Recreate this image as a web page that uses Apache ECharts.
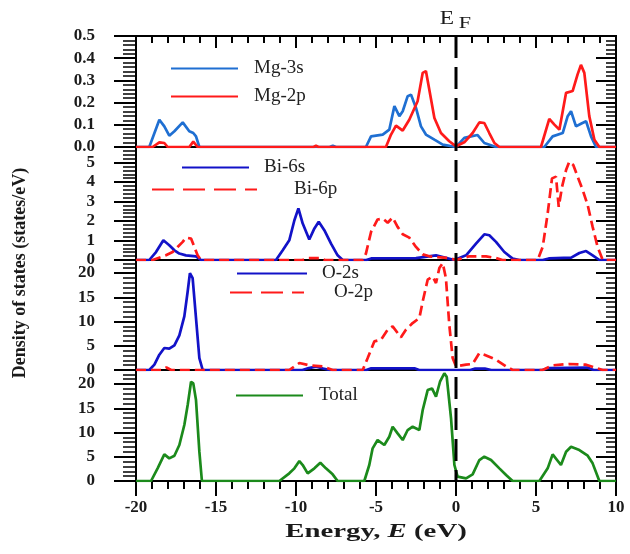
<!DOCTYPE html>
<html>
<head>
<meta charset="utf-8">
<script src="https://cdn.jsdelivr.net/npm/echarts@6/dist/echarts.min.js"></script>
<style>
  html, body { margin: 0; padding: 0; background: #fff; }
  #chart { width: 630px; height: 554px; }
</style>
</head>
<body>
<div id="chart"></div>
<script>
// energy range (eV) and panel ranges
const energyRange = [-20, 10]
const energyTicks = 5
const panelMax = [0.5, 5.8, 22.7, 22.9]
const panelStep = [0.1, 1, 5, 5]

// PDOS: [energy, states/eV]
const mg3s = [[-20,0],[-19.17,0],[-18.54,0.123],[-18.23,0.093],[-17.92,0.051],[-17.6,0.071],[-17.08,0.111],[-16.67,0.071],[-16.42,0.063],[-16.25,0.048],[-16.04,0],[-7.9,0],[-7.7,0.006],[-7.5,0],[-5.63,0],[-5.31,0.048],[-4.58,0.056],[-4.17,0.078],[-3.85,0.184],[-3.54,0.139],[-3.33,0.161],[-3.02,0.229],[-2.81,0.236],[-2.5,0.176],[-2.19,0.093],[-1.88,0.056],[-1.35,0.033],[-0.83,0.011],[0,0],[0.52,0.041],[0.94,0.048],[1.35,0.054],[1.77,0.018],[2.5,0],[5.52,0],[6.04,0.048],[6.67,0.063],[6.98,0.139],[7.19,0.161],[7.5,0.093],[7.81,0.105],[8.13,0.116],[8.44,0.048],[8.75,0],[10,0]]
const mg2p = [[-20,0],[-18.96,0],[-18.54,0.021],[-18.23,0.018],[-18.02,0],[-16.67,0],[-16.42,0.024],[-16.15,0],[-8.9,0],[-8.75,0.006],[-8.6,0],[-4.38,0],[-4.06,0.056],[-3.75,0.096],[-3.33,0.074],[-2.92,0.123],[-2.4,0.206],[-2.08,0.334],[-1.88,0.342],[-1.67,0.259],[-1.35,0.131],[-0.94,0.063],[-0.42,0.026],[0,0.003],[0.52,0.021],[1.04,0.063],[1.46,0.111],[1.77,0.108],[2.08,0.063],[2.4,0.018],[2.71,0],[5.31,0],[5.83,0.127],[6.15,0.101],[6.46,0.078],[6.88,0.244],[7.29,0.252],[7.6,0.327],[7.81,0.37],[8.02,0.334],[8.33,0.139],[8.65,0.033],[8.96,0],[10,0]]
const bi6s = [[-20,0],[-19.17,0],[-18.75,0.41],[-18.29,1.01],[-17.92,0.76],[-17.6,0.5],[-17.29,0.33],[-16.88,0.24],[-16.25,0.19],[-15.94,0],[-11.25,0],[-10.83,0.5],[-10.42,1.01],[-10.1,2.04],[-9.85,2.65],[-9.58,1.87],[-9.17,1.05],[-8.85,1.62],[-8.58,1.96],[-8.23,1.53],[-7.81,0.84],[-7.4,0.24],[-7.08,0],[-5.6,0],[-5.3,0.08],[-2.5,0.1],[-1.25,0.24],[-0.1,0],[0.63,0.24],[1.25,0.84],[1.77,1.32],[2.08,1.27],[2.5,0.93],[3.02,0.41],[3.54,0.07],[3.96,0],[5.42,0],[5.8,0.08],[7.2,0.12],[7.71,0.36],[8.13,0.46],[8.54,0.24],[8.96,0],[10,0]]
const bi6p = [[-20,0],[-18.96,0],[-18.13,0.24],[-17.71,0.41],[-17.4,0.67],[-17.08,0.93],[-16.88,1.15],[-16.56,1.1],[-16.35,0.67],[-16.15,0.24],[-15.94,0],[-9.6,0],[-9.2,0.1],[-8.5,0.1],[-8.2,0],[-5.83,0],[-5.63,0.33],[-5.31,1.44],[-4.9,2.08],[-4.58,2.13],[-4.27,1.91],[-3.96,2.18],[-3.65,1.7],[-3.33,1.32],[-2.92,1.15],[-2.5,0.67],[-2.08,0.29],[-1.67,0.19],[-1.25,0.15],[-0.42,0.1],[0,0],[0.83,0.19],[1.88,0.19],[2.5,0.1],[2.9,0],[5.1,0],[5.42,0.67],[5.73,2.39],[6.0,4.19],[6.25,4.28],[6.42,2.73],[6.63,3.76],[6.88,4.62],[7.08,5.05],[7.33,4.88],[7.6,4.28],[7.92,3.59],[8.23,2.82],[8.54,1.7],[8.85,0.67],[9.17,0],[10,0]]
const o2s = [[-20,0],[-19.17,0],[-18.85,1.1],[-18.54,3.16],[-18.23,4.54],[-17.92,4.4],[-17.6,5.09],[-17.29,7.15],[-16.98,11.07],[-16.77,16.2],[-16.63,20.0],[-16.46,18.97],[-16.25,10.72],[-16.04,2.47],[-15.83,0],[-9.6,0],[-9.2,0.4],[-8.75,0.7],[-8.3,0.3],[-7.9,0],[-5.6,0],[-5.3,0.35],[-2.6,0.35],[-2.3,0],[0.9,0],[1.2,0.3],[1.8,0.3],[2.2,0],[5.4,0],[5.8,0.4],[8.2,0.5],[8.6,0],[10,0]]
const o2p = [[-20,0],[-18.4,0],[-18.1,0.5],[-17.8,0],[-10.42,0],[-9.79,1.44],[-9.17,0.96],[-8.33,0.76],[-7.71,0],[-5.83,0],[-5.52,2.47],[-5.1,5.91],[-4.69,6.25],[-4.27,8.3],[-3.96,9.0],[-3.44,6.74],[-3.13,8.3],[-2.71,9.69],[-2.29,10.72],[-2.08,14.16],[-1.77,18.63],[-1.46,19.31],[-1.25,17.94],[-1.04,21.03],[-0.83,22.06],[-0.63,18.97],[-0.42,9.35],[-0.21,2.47],[0,0.76],[0.63,1.1],[1.04,1.24],[1.46,3.5],[1.77,3.16],[2.5,2.13],[3.13,0.76],[3.54,0],[5.42,0],[6.04,0.96],[7.08,1.24],[8.13,1.1],[8.75,0.41],[9.17,0],[10,0]]
const total = [[-20,0],[-19.06,0],[-18.65,2.61],[-18.23,5.5],[-17.92,4.67],[-17.6,5.22],[-17.29,7.42],[-16.98,11.55],[-16.77,15.67],[-16.56,20.48],[-16.42,20.14],[-16.25,16.7],[-16.04,6.05],[-15.88,0],[-11.04,0],[-10.42,1.58],[-10.1,2.61],[-9.79,4.12],[-9.58,3.3],[-9.27,1.58],[-8.85,2.61],[-8.48,3.78],[-8.13,2.61],[-7.71,1.37],[-7.4,0],[-5.73,0],[-5.42,3.3],[-5.21,6.74],[-4.9,8.45],[-4.48,7.42],[-4.17,9.14],[-3.96,11.2],[-3.65,9.83],[-3.33,8.45],[-3.02,10.52],[-2.71,11.2],[-2.29,10.52],[-2.08,14.64],[-1.77,18.76],[-1.5,19.1],[-1.25,17.39],[-1.0,20.48],[-0.73,22.2],[-0.58,21.5],[-0.31,12.92],[-0.1,3.3],[0.1,0.89],[0.63,0.55],[1.04,1.37],[1.46,4.33],[1.77,5.02],[2.19,4.33],[2.71,2.61],[3.13,1.24],[3.54,0],[5.21,0],[5.73,2.61],[6.04,5.5],[6.56,3.3],[6.88,6.05],[7.19,7.08],[7.71,6.39],[8.23,5.22],[8.54,3.64],[8.96,0],[10,0]]
// Fermi level marker
const fermi = [[0, 1], [0, 0]]

const serif = '"Liberation Serif", "DejaVu Serif", serif'

// panel layout (px)
const panels = [
  { top: 36, height: 111 },
  { top: 147, height: 113 },
  { top: 260, height: 110 },
  { top: 370, height: 111 }
]

const chart = echarts.init(document.getElementById('chart'))

const grid = []
const xAxis = []
const yAxis = []

const noLine = { show: false, onZero: false }

panels.forEach((p, i) => {
  grid.push({
    left: 136, right: 14, top: p.top, height: p.height,
    show: true, borderColor: '#000', borderWidth: 2, containLabel: false
  })
  const last = i === panels.length - 1
  xAxis.push({
    type: 'value', gridIndex: i, min: energyRange[0], max: energyRange[1], interval: energyTicks,
    position: 'bottom',
    axisLine: noLine,
    axisTick: { show: last, inside: false, length: 15, lineStyle: { color: '#000', width: 2 } },
    minorTick: { show: last, splitNumber: 5, length: 8, lineStyle: { color: '#000', width: 2 } },
    axisLabel: { show: last, margin: 18, color: '#1a1a1a', fontFamily: serif, fontWeight: 'bold', fontSize: 17 },
    splitLine: { show: false }
  })
  const step = panelStep[i]
  yAxis.push({
    type: 'value', gridIndex: i, min: 0, max: panelMax[i], interval: step,
    position: 'left',
    axisLine: noLine,
    axisTick: { show: true, inside: false, length: 22, lineStyle: { color: '#000', width: 2 } },
    minorTick: { show: true, splitNumber: 5, length: 13, lineStyle: { color: '#000', width: 1.5 } },
    axisLabel: {
      margin: 41, color: '#1a1a1a', fontFamily: serif, fontWeight: 'bold', fontSize: 17,
      showMaxLabel: i === 0,
      formatter: v => {
        const k = v / step
        if (Math.abs(k - Math.round(k)) > 1e-6) return ''
        return i === 0 ? v.toFixed(1) : String(Math.round(v))
      }
    },
    splitLine: { show: false }
  })
  yAxis.push({
    type: 'value', gridIndex: i, min: 0, max: panelMax[i], interval: step,
    position: 'right',
    axisLine: noLine,
    axisTick: { show: true, inside: true, length: 20, lineStyle: { color: '#000', width: 2 } },
    minorTick: { show: true, splitNumber: 5, length: 10, lineStyle: { color: '#000', width: 1.5 } },
    axisLabel: { show: false },
    splitLine: { show: false }
  })
})

// top energy axis of the first panel (ticks pointing in)
xAxis.push({
  type: 'value', gridIndex: 0, min: energyRange[0], max: energyRange[1], interval: energyTicks,
  position: 'top',
  axisLine: noLine,
  axisTick: { show: true, inside: true, length: 12, lineStyle: { color: '#000', width: 2 } },
  minorTick: { show: true, splitNumber: 5, length: 7, lineStyle: { color: '#000', width: 2 } },
  axisLabel: { show: false },
  splitLine: { show: false }
})

// overlay grid for the E_F dashed line across all panels
grid.push({ left: 136, right: 14, top: 36, height: 445, show: false })
xAxis.push({ type: 'value', gridIndex: 4, min: energyRange[0], max: energyRange[1], show: false, axisLine: noLine })
yAxis.push({ type: 'value', gridIndex: 4, min: 0, max: 1, show: false, axisLine: noLine })

const line = (name, data, panel, color, dashed) => ({
  name, type: 'line', data,
  xAxisIndex: panel, yAxisIndex: panel * 2,
  symbol: 'none', smooth: false, silent: true, animation: false,
  lineStyle: { color, width: 2.7, type: dashed ? [10, 5] : 'solid' },
  itemStyle: { color }
})

const series = [
  line('Mg-3s', mg3s, 0, '#1f6fd2', false),
  line('Mg-2p', mg2p, 0, '#ff1a1a', false),
  line('Bi-6s', bi6s, 1, '#1212c8', false),
  line('Bi-6p', bi6p, 1, '#ff1a1a', true),
  line('O-2s', o2s, 2, '#1212c8', false),
  line('O-2p', o2p, 2, '#ff1a1a', true),
  line('Total', total, 3, '#1b8a1b', false),
  {
    name: 'EF', type: 'line', data: fermi, xAxisIndex: 5, yAxisIndex: 8,
    symbol: 'none', silent: true, animation: false, z: 5,
    lineStyle: { color: '#000', width: 3, type: [22, 9] }
  }
]

const legendItem = (name, left, y, width, gap, dashed) => ({
  data: [name], left, top: y - 7, padding: 0,
  itemWidth: width, itemHeight: 14, selectedMode: false,
  itemStyle: { opacity: 0 },
  lineStyle: dashed ? { type: [22, 9] } : {},
  textStyle: { fontFamily: serif, fontSize: 19, color: '#222', padding: [0, 0, 0, gap] }
})

const option = {
  animation: false,
  backgroundColor: '#fff',
  grid, xAxis, yAxis, series,
  legend: [
    legendItem('Mg-3s', 170, 66, 67, 11, false),
    legendItem('Mg-2p', 170, 94, 67, 11, false),
    legendItem('Bi-6s', 181, 165, 67, 10, false),
    legendItem('Bi-6p', 151, 187, 105, 32, true),
    legendItem('O-2s', 236, 271, 70, 10, false),
    legendItem('O-2p', 229, 290, 74, 25, true),
    legendItem('Total', 235, 393, 67, 11, false)
  ],
  graphic: [
    { type: 'text', x: 447, y: 19, scaleX: 1.3, style: { text: 'E', fill: '#1a1a1a', font: '18px ' + serif, align: 'center', verticalAlign: 'middle' } },
    { type: 'text', x: 465, y: 24, scaleX: 1.3, style: { text: 'F', fill: '#1a1a1a', font: '17px ' + serif, align: 'center', verticalAlign: 'middle' } },
    {
      type: 'text', x: 20, y: 273, rotation: Math.PI / 2,
      style: { text: 'Density of states (states/eV)', fill: '#1a1a1a', font: 'bold 18px ' + serif, align: 'center', verticalAlign: 'middle' }
    },
    {
      type: 'text', x: 376, y: 532, scaleX: 1.6,
      style: {
        text: '{n|Energy, }{i|E}{n| (eV)}', align: 'center', verticalAlign: 'middle',
        rich: {
          n: { fontFamily: serif, fontWeight: 'bold', fontSize: 18, fill: '#1a1a1a' },
          i: { fontFamily: serif, fontWeight: 'bold', fontStyle: 'italic', fontSize: 18, fill: '#1a1a1a' }
        }
      }
    }
  ]
}

chart.setOption(option)
</script>
</body>
</html>
